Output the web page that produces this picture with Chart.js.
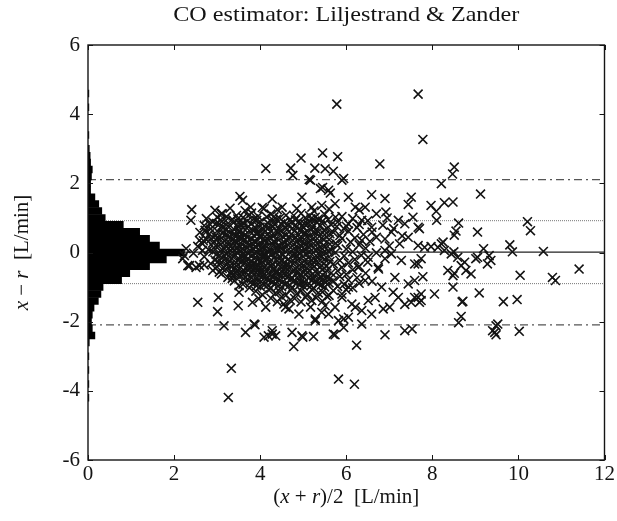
<!DOCTYPE html>
<html lang="en">
<head>
    <meta charset="UTF-8">
    <title>CO estimator: Liljestrand &amp; Zander</title>
    <script src="https://cdn.jsdelivr.net/npm/chart.js@4.4.1/dist/chart.umd.min.js"></script>
    <style>
        body {
            margin: 0;
            background: #fff;
        }
        #wrap {
            width: 617px;
            height: 521px;
        }
    </style>
</head>
<body>
    <div id="wrap"><canvas id="chart"></canvas></div>

    <script>
        // histogram of differences (bin centre on the y axis, bar length on the x axis)
        const histCentres = [-4.2, -3.8, -3.4, -3.0, -2.6, -2.4, -2.2, -2.0, -1.8, -1.6, -1.4, -1.2, -1.0, -0.8, -0.6, -0.4, -0.2, 0, 0.2, 0.4, 0.6, 0.8, 1.0, 1.2, 1.4, 1.6, 1.8, 2.0, 2.2, 2.4, 2.6, 2.8, 3.0, 3.4, 4.2, 4.6];
        const histLengths = [0.02, 0.02, 0.02, 0.02, 0.03, 0.16, 0.1, 0.08, 0.1, 0.14, 0.24, 0.3, 0.35, 0.78, 0.97, 1.43, 1.82, 2.24, 1.66, 1.43, 1.2, 0.82, 0.4, 0.32, 0.25, 0.16, 0.06, 0.06, 0.08, 0.1, 0.06, 0.05, 0.03, 0.02, 0.02, 0.02];

        // mean and limits of agreement
        const meanDiff = 0.01;
        const sdLines = [0.92, -0.9];
        const limitLines = [2.11, -2.09];

        // scattered points  [ (x+r)/2 , x-r ]
        const sparsePts = [
            [5.78, 4.29], [7.67, 4.58], [7.78, 3.27], [5.45, 2.88], [4.95, 2.73], [5.8, 2.77], [6.78, 2.56], [4.13, 2.43],
            [4.71, 2.44], [4.76, 2.23], [5.27, 2.44], [5.51, 2.42], [5.14, 2.11], [5.7, 2.35], [5.94, 2.14], [5.17, 2.09],
            [8.51, 2.47], [8.47, 2.27], [8.21, 1.99], [9.12, 1.69], [5.45, 1.88], [5.59, 1.8], [4.97, 1.6], [3.53, 1.62],
            [3.59, 1.51], [4.28, 1.55], [2.41, 1.24], [2.39, 0.93], [3.12, 1.12], [3.78, 1.31], [4.09, 1.27], [4.51, 1.31],
            [5.2, 1.31], [5.43, 1.36], [2.82, 0.83], [2.66, 0.25], [2.28, 0.11], [2.24, -0.09], [5.63, 1.72], [5.4, 1.85],
            [6.05, 1.6], [6.59, 1.67], [6.9, 1.56], [7.51, 1.6], [7.44, 1.39], [7.97, 1.36], [8.28, 1.44], [8.48, 1.46],
            [8.09, 1.19], [6.92, 1.17], [8.1, 0.93], [7.67, 0.73], [8.61, 0.85], [8.55, 0.62], [8.51, 0.5], [7.97, 0.17],
            [8.21, 0.25], [8.13, 0.15], [8.5, 0.02], [8.36, -0.52], [8.51, -0.6], [8.48, -1.0], [8.05, -1.2], [8.69, -1.43],
            [8.67, -1.85], [8.61, -2.03], [6.9, -2.38], [7.36, -2.26], [7.53, -2.21], [6.24, -2.68], [5.94, -1.92], [5.74, -2.38],
            [5.82, -3.66], [6.19, -3.81], [7.44, -0.91], [7.67, -1.3], [7.51, -1.44], [7.74, -1.39], [6.86, -1.63], [7.01, -1.58],
            [6.59, -1.78], [7.09, -1.15], [7.78, -0.7], [7.59, -0.33], [7.67, 0.2], [7.44, 0.44], [7.36, 0.83], [7.21, 0.93],
            [7.55, 1.02], [7.05, 0.59], [7.24, 0.25], [7.05, -0.04], [7.28, -0.23], [7.13, -0.72], [7.21, -1.3], [7.36, -1.5],
            [7.59, -0.81], [6.82, -1.0], [6.74, -0.43], [6.9, 0.06], [6.7, 0.44], [6.59, 0.73], [6.36, 0.93], [6.44, 1.31],
            [6.21, 1.31], [5.74, 1.41], [6.05, 0.83], [6.36, 0.35], [6.51, -0.14], [6.28, -0.43], [6.44, -0.81], [6.05, -1.0],
            [5.9, -1.3], [6.13, -1.49], [6.36, -1.68], [5.74, -1.58], [6.51, -1.39], [6.36, -2.07], [6.05, -1.87],
            [10.21, 0.89], [10.28, 0.63], [9.05, 0.59], [9.8, 0.22], [9.86, 0.02], [10.58, 0.03], [9.19, 0.11], [9.05, -0.14],
            [9.32, -0.09], [9.36, -0.23], [9.28, -0.33], [8.75, -0.28], [8.78, -0.52], [8.9, -0.62], [8.67, -0.38], [11.41, -0.48],
            [10.04, -0.66], [10.79, -0.72], [10.86, -0.81], [9.09, -1.17], [8.71, -1.41], [9.65, -1.42], [9.97, -1.36], [9.48, -2.12],
            [9.45, -2.31], [9.4, -2.26], [9.48, -2.38], [10.02, -2.28], [8.25, 0.3], [7.7, 0.69], [8.59, -0.14], [8.44, -0.04],
            [9.01, -0.18], [8.48, -0.67], [7.67, -0.33], [7.74, -0.18], [7.74, -1.2], [7.7, -1.44], [9.52, -2.07], [7.82, 0.15],
            [8.28, 0.06], [7.59, -1.3], [6.67, -1.3], [6.21, -1.58], [5.82, -1.97], [5.59, -1.78], [5.28, -1.97], [4.9, -1.78],
            [4.59, -1.58], [2.55, -1.44], [3.03, -1.3], [3.01, -1.71], [3.16, -2.12], [3.49, -1.54], [3.51, -1.15], [3.82, -1.44],
            [3.66, -2.31], [3.88, -2.09], [4.19, -2.41], [4.36, -2.41], [4.28, -2.26], [4.74, -2.31], [4.78, -2.72], [4.99, -2.45],
            [5.24, -2.43], [5.28, -1.92], [5.7, -2.36], [3.33, -3.35], [3.26, -4.19], [5.43, -1.73], [5.17, -1.58], [4.13, -1.58],
            [3.97, -1.34], [4.55, -1.49], [4.67, -1.63], [5.51, -1.54], [2.36, -0.38], [2.59, -0.38], [2.7, -0.36], [2.2, -0.18],
            [3.05, -0.57], [3.36, -0.67], [3.51, -0.96], [3.86, -2.07], [4.28, -2.36], [4.97, -2.41], [5.94, -2.17], [4.09, -2.45],
            [2.59, 0.35], [2.66, 0.06], [2.32, -0.38], [2.51, -0.43], [2.74, 0.59], [2.86, 0.4], [3.35, -0.75], [5.9, 2.09]
        ];

        // dense cluster, estimated
        const densePts = [
            [2.95, 1.22], [3.3, 1.28], [3.65, 1.21], [4.05, 1.3], [4.4, 1.24], [4.85, 1.27], [5.25, 1.2], [5.6, 1.26], [6.3, 1.23],
            [3.1, 1.12], [3.45, 1.07], [3.8, 1.14], [3.95, 1.05], [4.25, 1.11], [4.6, 1.08], [4.95, 1.13], [5.15, 1.06], [5.5, 1.1], [5.9, 1.04], [6.7, 1.12],
            [2.75, 0.98], [3.0, 1.02], [3.35, 0.96], [3.6, 1.01], [3.85, 0.97], [4.15, 1.03], [4.45, 0.99], [4.7, 0.95], [5.05, 1.0], [5.35, 0.97], [5.75, 1.02], [6.15, 0.98], [6.95, 1.0],
            [2.9, 0.88], [3.2, 0.92], [3.5, 0.86], [3.7, 0.91], [4.0, 0.89], [4.3, 0.93], [4.55, 0.87], [4.9, 0.9], [5.2, 0.85], [5.45, 0.91], [5.8, 0.88], [6.5, 0.92],
            [2.7, 0.78], [3.05, 0.82], [3.25, 0.76], [3.55, 0.8], [3.8, 0.83], [4.1, 0.77], [4.35, 0.81], [4.65, 0.79], [4.85, 0.75], [5.1, 0.82], [5.4, 0.78], [5.65, 0.8], [6.0, 0.76], [6.3, 0.81], [6.85, 0.79],
            [2.85, 0.68], [3.15, 0.72], [3.4, 0.66], [3.6, 0.71], [3.9, 0.69], [4.2, 0.73], [4.45, 0.67], [4.75, 0.7], [5.0, 0.72], [5.3, 0.66], [5.55, 0.7], [5.95, 0.68], [6.25, 0.72], [7.1, 0.69],
            [2.6, 0.58], [3.0, 0.62], [3.3, 0.57], [3.5, 0.6], [3.75, 0.63], [3.95, 0.56], [4.25, 0.61], [4.5, 0.59], [4.8, 0.62], [5.05, 0.57], [5.35, 0.6], [5.7, 0.58], [6.05, 0.62], [6.6, 0.59],
            [2.95, 0.48], [3.2, 0.52], [3.45, 0.47], [3.65, 0.51], [3.85, 0.49], [4.05, 0.53], [4.3, 0.46], [4.6, 0.5], [4.9, 0.52], [5.15, 0.47], [5.5, 0.51], [5.85, 0.49], [6.4, 0.52], [7.3, 0.48],
            [2.75, 0.38], [3.1, 0.42], [3.35, 0.37], [3.55, 0.41], [3.8, 0.39], [4.0, 0.43], [4.2, 0.36], [4.4, 0.4], [4.7, 0.42], [4.95, 0.38], [5.25, 0.41], [5.6, 0.37], [5.9, 0.4], [6.2, 0.42], [6.9, 0.39],
            [2.9, 0.28], [3.25, 0.32], [3.45, 0.27], [3.7, 0.31], [3.9, 0.29], [4.1, 0.33], [4.35, 0.26], [4.55, 0.3], [4.85, 0.32], [5.1, 0.28], [5.4, 0.31], [5.75, 0.27], [6.1, 0.3], [6.55, 0.32],
            [2.55, 0.18], [3.0, 0.22], [3.3, 0.17], [3.5, 0.21], [3.75, 0.19], [3.95, 0.23], [4.15, 0.16], [4.45, 0.2], [4.65, 0.22], [4.95, 0.18], [5.2, 0.21], [5.5, 0.17], [5.8, 0.2], [6.3, 0.22], [7.0, 0.19],
            [2.8, 0.08], [3.15, 0.12], [3.4, 0.07], [3.6, 0.11], [3.85, 0.09], [4.05, 0.13], [4.25, 0.06], [4.5, 0.1], [4.8, 0.12], [5.05, 0.08], [5.35, 0.11], [5.65, 0.07], [6.0, 0.1], [6.45, 0.12],
            [2.45, -0.02], [2.9, 0.02], [3.2, -0.03], [3.45, 0.01], [3.7, -0.01], [3.9, 0.03], [4.1, -0.04], [4.35, 0.0], [4.6, 0.02], [4.9, -0.02], [5.15, 0.01], [5.45, -0.03], [5.75, 0.0], [6.15, 0.02], [6.7, -0.01],
            [2.7, -0.12], [3.05, -0.08], [3.3, -0.13], [3.55, -0.09], [3.8, -0.11], [4.0, -0.07], [4.2, -0.14], [4.45, -0.1], [4.75, -0.08], [5.0, -0.12], [5.3, -0.09], [5.6, -0.13], [5.95, -0.1], [6.35, -0.08],
            [2.95, -0.22], [3.2, -0.18], [3.5, -0.23], [3.7, -0.19], [3.95, -0.21], [4.15, -0.17], [4.4, -0.24], [4.65, -0.2], [4.9, -0.18], [5.2, -0.22], [5.5, -0.19], [5.85, -0.23], [6.2, -0.2], [6.9, -0.18],
            [2.85, -0.32], [3.1, -0.28], [3.4, -0.33], [3.65, -0.29], [3.85, -0.31], [4.05, -0.27], [4.3, -0.34], [4.55, -0.3], [4.8, -0.28], [5.1, -0.32], [5.35, -0.29], [5.7, -0.33], [6.05, -0.3], [6.5, -0.28],
            [3.0, -0.42], [3.3, -0.38], [3.55, -0.43], [3.8, -0.39], [4.0, -0.41], [4.25, -0.37], [4.5, -0.44], [4.7, -0.4], [5.0, -0.38], [5.25, -0.42], [5.55, -0.39], [5.9, -0.43], [6.3, -0.4],
            [2.9, -0.52], [3.2, -0.48], [3.45, -0.53], [3.75, -0.49], [3.95, -0.51], [4.15, -0.47], [4.4, -0.54], [4.65, -0.5], [4.9, -0.48], [5.15, -0.52], [5.45, -0.49], [5.8, -0.53], [6.15, -0.5], [6.75, -0.48],
            [3.1, -0.62], [3.35, -0.58], [3.6, -0.63], [3.9, -0.59], [4.1, -0.61], [4.35, -0.57], [4.6, -0.64], [4.85, -0.6], [5.1, -0.58], [5.35, -0.62], [5.65, -0.59], [6.0, -0.63], [6.45, -0.6],
            [3.25, -0.72], [3.55, -0.68], [3.8, -0.73], [4.05, -0.69], [4.3, -0.71], [4.5, -0.67], [4.75, -0.74], [5.0, -0.7], [5.25, -0.68], [5.55, -0.72], [5.85, -0.69], [6.25, -0.73],
            [3.4, -0.82], [3.7, -0.78], [3.95, -0.83], [4.2, -0.79], [4.45, -0.81], [4.7, -0.77], [4.95, -0.84], [5.2, -0.8], [5.45, -0.78], [5.7, -0.82], [6.05, -0.79], [6.6, -0.83],
            [3.6, -0.92], [3.85, -0.88], [4.1, -0.93], [4.35, -0.89], [4.6, -0.91], [4.85, -0.87], [5.1, -0.94], [5.35, -0.9], [5.6, -0.88], [5.95, -0.92], [6.3, -0.89],
            [3.75, -1.02], [4.0, -0.98], [4.25, -1.03], [4.5, -0.99], [4.75, -1.01], [5.0, -0.97], [5.25, -1.04], [5.5, -1.0], [5.8, -0.98], [6.15, -1.02],
            [3.9, -1.12], [4.2, -1.08], [4.45, -1.13], [4.7, -1.09], [4.95, -1.11], [5.2, -1.07], [5.45, -1.14], [5.7, -1.1], [6.0, -1.08],
            [4.05, -1.22], [4.35, -1.18], [4.6, -1.23], [4.85, -1.19], [5.1, -1.21], [5.35, -1.17], [5.6, -1.24], [5.9, -1.2],
            [4.25, -1.32], [4.5, -1.28], [4.8, -1.33], [5.05, -1.29], [5.3, -1.31], [5.55, -1.27],
            [4.4, -1.42], [4.7, -1.38], [4.95, -1.43], [5.2, -1.39], [5.45, -1.41]
        ];

        // second layer in the darkest part of the cloud
        const corePts = [
            [3.22, 1.04], [3.72, 1.06], [4.32, 1.03], [4.78, 1.07], [5.28, 1.02],
            [3.08, 0.94], [3.48, 0.97], [3.92, 0.93], [4.38, 0.96], [4.82, 0.94], [5.18, 0.97], [5.58, 0.95],
            [2.98, 0.84], [3.38, 0.86], [3.62, 0.84], [4.18, 0.85], [4.48, 0.83], [4.72, 0.86], [5.02, 0.84], [5.32, 0.87],
            [3.12, 0.74], [3.48, 0.76], [3.72, 0.75], [3.98, 0.73], [4.28, 0.76], [4.58, 0.74], [4.98, 0.77], [5.22, 0.73], [5.78, 0.75],
            [2.72, 0.64], [3.22, 0.66], [3.52, 0.63], [3.82, 0.65], [4.08, 0.67], [4.38, 0.64], [4.62, 0.66], [4.92, 0.63], [5.18, 0.65], [5.48, 0.64],
            [2.82, 0.54], [3.12, 0.56], [3.38, 0.53], [3.58, 0.55], [3.92, 0.57], [4.18, 0.54], [4.42, 0.56], [4.72, 0.53], [5.02, 0.55], [5.28, 0.57], [5.62, 0.54],
            [3.02, 0.44], [3.28, 0.46], [3.52, 0.43], [3.72, 0.45], [3.98, 0.47], [4.22, 0.44], [4.52, 0.46], [4.82, 0.43], [5.08, 0.45], [5.38, 0.47],
            [2.68, 0.34], [2.98, 0.36], [3.18, 0.33], [3.42, 0.35], [3.62, 0.37], [3.88, 0.34], [4.12, 0.36], [4.32, 0.33], [4.62, 0.35], [4.88, 0.37], [5.18, 0.34], [5.48, 0.36],
            [3.08, 0.24], [3.38, 0.26], [3.58, 0.23], [3.82, 0.25], [4.02, 0.27], [4.28, 0.24], [4.52, 0.26], [4.78, 0.23], [5.02, 0.25], [5.32, 0.27], [5.62, 0.24],
            [2.92, 0.14], [3.22, 0.16], [3.48, 0.13], [3.68, 0.15], [3.88, 0.17], [4.08, 0.14], [4.38, 0.16], [4.58, 0.13], [4.88, 0.15], [5.12, 0.17], [5.42, 0.14],
            [3.08, 0.04], [3.32, 0.06], [3.52, 0.03], [3.78, 0.05], [3.98, 0.07], [4.18, 0.04], [4.42, 0.06], [4.72, 0.03], [4.98, 0.05], [5.28, 0.07], [5.58, 0.04],
            [2.98, -0.06], [3.22, -0.04], [3.42, -0.07], [3.62, -0.05], [3.88, -0.03], [4.12, -0.06], [4.28, -0.04], [4.52, -0.07], [4.82, -0.05], [5.08, -0.03], [5.38, -0.06],
            [3.12, -0.16], [3.38, -0.14], [3.62, -0.17], [3.88, -0.15], [4.08, -0.13], [4.32, -0.16], [4.58, -0.14], [4.82, -0.17], [5.12, -0.15], [5.42, -0.13],
            [3.02, -0.26], [3.28, -0.24], [3.58, -0.27], [3.78, -0.25], [4.02, -0.23], [4.22, -0.26], [4.48, -0.24], [4.72, -0.27], [5.02, -0.25], [5.28, -0.23], [5.62, -0.26],
            [3.22, -0.36], [3.48, -0.34], [3.72, -0.37], [3.92, -0.35], [4.18, -0.33], [4.42, -0.36], [4.62, -0.34], [4.92, -0.37], [5.22, -0.35], [5.48, -0.33],
            [3.12, -0.46], [3.42, -0.44], [3.68, -0.47], [3.88, -0.45], [4.08, -0.43], [4.32, -0.46], [4.58, -0.44], [4.82, -0.47], [5.08, -0.45], [5.38, -0.43],
            [3.32, -0.56], [3.58, -0.54], [3.82, -0.57], [4.02, -0.55], [4.25, -0.53], [4.52, -0.56], [4.75, -0.54], [5.02, -0.57], [5.28, -0.55], [5.55, -0.53],
            [3.48, -0.66], [3.72, -0.64], [3.98, -0.67], [4.22, -0.65], [4.42, -0.63], [4.68, -0.66], [4.92, -0.64], [5.18, -0.67], [5.45, -0.65],
            [3.62, -0.76], [3.92, -0.74], [4.15, -0.77], [4.38, -0.75], [4.62, -0.73], [4.88, -0.76], [5.12, -0.74], [5.38, -0.77], [5.62, -0.75],
            [3.78, -0.86], [4.02, -0.84], [4.28, -0.87], [4.52, -0.85], [4.78, -0.83], [5.02, -0.86], [5.28, -0.84], [5.52, -0.87],
            [3.92, -0.96], [4.18, -0.94], [4.42, -0.97], [4.68, -0.95], [4.92, -0.93], [5.18, -0.96], [5.42, -0.94]
        ];

        const xTicksMax = 12;
        const yLimit = 6;

        const serif = '"Liberation Serif", "Times New Roman", serif';
        const ink = '#141414';

        function hLine(value) {
            return [{ x: 0, y: value }, { x: xTicksMax, y: value }];
        }

        // draws text made of plain and italic pieces, centred on cx
        function drawMixed(ctx, parts, cx, cy) {
            const widths = parts.map(p => {
                ctx.font = p[1];
                return ctx.measureText(p[0]).width;
            });
            let pos = cx - widths.reduce((s, w) => s + w, 0) / 2;
            parts.forEach((p, i) => {
                ctx.font = p[1];
                ctx.fillText(p[0], pos, cy);
                pos += widths[i];
            });
        }

        const framePlugin = {
            id: 'frame',
            afterDraw(chart) {
                const { ctx, chartArea: a, scales: { x, y } } = chart;
                ctx.save();
                ctx.strokeStyle = ink;
                ctx.lineWidth = 1.4;
                ctx.strokeRect(a.left, a.top, a.right - a.left, a.bottom - a.top);

                // inward ticks on all four sides
                ctx.lineWidth = 1;
                ctx.beginPath();
                x.ticks.forEach(t => {
                    const px = Math.round(x.getPixelForValue(t.value)) + 0.5;
                    ctx.moveTo(px, a.bottom); ctx.lineTo(px, a.bottom - 5);
                    ctx.moveTo(px, a.top); ctx.lineTo(px, a.top + 5);
                });
                y.ticks.forEach(t => {
                    const py = Math.round(y.getPixelForValue(t.value)) + 0.5;
                    ctx.moveTo(a.left, py); ctx.lineTo(a.left + 5, py);
                    ctx.moveTo(a.right, py); ctx.lineTo(a.right - 5, py);
                });
                ctx.stroke();

                const plain = '21px ' + serif;
                const ital = 'italic 21px ' + serif;
                ctx.fillStyle = ink;
                ctx.textAlign = 'left';
                ctx.textBaseline = 'alphabetic';
                const midX = (a.left + a.right) / 2;

                // title, stretched a little to match the wider original face
                ctx.save();
                ctx.translate(midX, 21);
                ctx.scale(1.15, 1);
                drawMixed(ctx, [['CO estimator: Liljestrand & Zander', '21px ' + serif]], 0, 0);
                ctx.restore();

                // x axis label
                drawMixed(ctx, [['(', plain], ['x', ital], [' + ', plain], ['r', ital], [')/2  [L/min]', plain]], midX, 503);

                // y axis label
                ctx.save();
                ctx.translate(28, (a.top + a.bottom) / 2);
                ctx.rotate(-Math.PI / 2);
                drawMixed(ctx, [['x', ital], [' \u2212 ', plain], ['r', ital], ['  [L/min]', plain]], 0, 0);
                ctx.restore();

                ctx.restore();
            }
        };

        const tickFont = { family: serif, size: 21 };

        new Chart(document.getElementById('chart'), {
            type: 'scatter',
            data: {
                datasets: [
                    {
                        type: 'scatter',
                        data: sparsePts.concat(densePts, corePts).map(p => ({ x: p[0], y: p[1] })),
                        pointStyle: 'crossRot',
                        pointRadius: 6.3,
                        borderColor: ink,
                        borderWidth: 1.6,
                        order: 1
                    },
                    {
                        type: 'bar',
                        indexAxis: 'y',
                        data: histCentres.map((c, i) => ({ x: histLengths[i], y: c })),
                        backgroundColor: '#000',
                        borderWidth: 0,
                        barPercentage: 1,
                        categoryPercentage: 1,
                        order: 2
                    },
                    {
                        type: 'line',
                        data: hLine(meanDiff),
                        borderColor: '#222',
                        borderWidth: 1.4,
                        pointRadius: 0,
                        order: 3
                    },
                    ...sdLines.map(v => ({
                        type: 'line',
                        data: hLine(v),
                        borderColor: '#777',
                        borderWidth: 1,
                        borderDash: [1, 1],
                        pointRadius: 0,
                        order: 3
                    })),
                    ...limitLines.map(v => ({
                        type: 'line',
                        data: hLine(v),
                        borderColor: '#555',
                        borderWidth: 1.3,
                        borderDash: [8, 4, 2, 4],
                        pointRadius: 0,
                        order: 3
                    }))
                ]
            },
            options: {
                responsive: true,
                maintainAspectRatio: false,
                animation: false,
                layout: {
                    padding: { top: 45, right: 11, left: 0, bottom: 0 }
                },
                plugins: {
                    legend: { display: false },
                    tooltip: { enabled: false },
                    title: { display: false }
                },
                scales: {
                    x: {
                        type: 'linear',
                        min: 0,
                        max: xTicksMax,
                        offset: false,
                        ticks: { stepSize: 2, font: tickFont, color: ink, padding: 2, maxRotation: 0 },
                        grid: { display: false, drawTicks: false },
                        border: { display: false },
                        afterFit(scale) { scale.height = 61; }
                    },
                    y: {
                        type: 'linear',
                        min: -yLimit,
                        max: yLimit,
                        offset: false,
                        ticks: { stepSize: 2, font: tickFont, color: ink, padding: 8 },
                        grid: { display: false, drawTicks: false },
                        border: { display: false },
                        afterFit(scale) { scale.width = 88; }
                    }
                }
            },
            plugins: [framePlugin]
        });
    </script>
</body>
</html>
